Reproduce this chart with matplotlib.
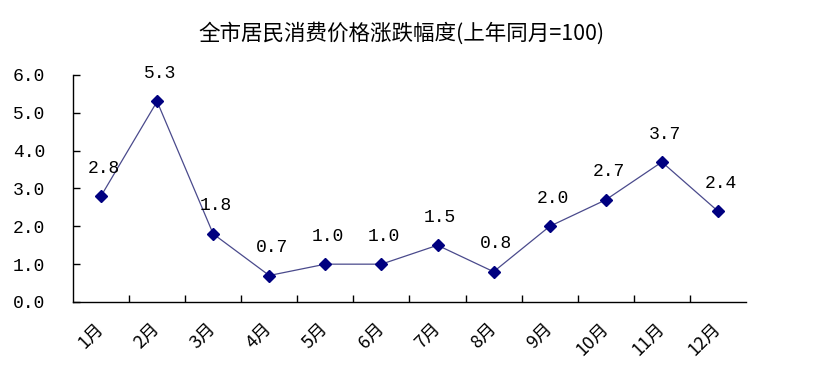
import matplotlib
matplotlib.use("Agg")
import matplotlib.pyplot as plt
from matplotlib.ticker import FixedLocator, NullFormatter

plt.rcParams['font.family'] = ['Noto Sans CJK SC', 'DejaVu Sans']
NUM_FONT = ['Liberation Mono', 'DejaVu Sans Mono']

# --- data ---
months = ["1月", "2月", "3月", "4月", "5月", "6月", "7月", "8月", "9月", "10月", "11月", "12月"]
values = [2.8, 5.3, 1.8, 0.7, 1.0, 1.0, 1.5, 0.8, 2.0, 2.7, 3.7, 2.4]
yticks = [0.0, 1.0, 2.0, 3.0, 4.0, 5.0, 6.0]
title = "全市居民消费价格涨跌幅度(上年同月=100)"

fig = plt.figure(figsize=(8.31, 3.92), dpi=100)
ax = fig.add_axes([0.0878, 0.2296, 0.8099, 0.5791])

x = list(range(len(months)))
ax.plot(x, values, color="#4a4a8c", linewidth=0.9, zorder=2)
ax.plot(x, values, linestyle="none", marker="D", markersize=6,
        color="#000080", zorder=3)

for xi, v in zip(x, values):
    ax.annotate(f"{v:.1f}", (xi, v), xytext=(2, 14), textcoords="offset points",
                ha="center", va="bottom", fontsize=13, color="black",
                family=NUM_FONT)

ax.set_xlim(-0.5, len(months) - 0.5)
ax.set_ylim(0, 6)
ax.set_yticks(yticks)
ax.set_yticklabels([f"{t:.1f}" for t in yticks], fontsize=13, family=NUM_FONT)

# category ticks at boundaries, labels at centers
ax.xaxis.set_major_locator(FixedLocator([i + 0.5 for i in range(len(months) - 1)]))
ax.xaxis.set_major_formatter(NullFormatter())
ax.xaxis.set_minor_locator(FixedLocator(x))
ax.set_xticklabels(months, minor=True, rotation=45, ha="right", va="center",
                   rotation_mode="anchor", fontsize=13)
ax.tick_params(axis="x", which="minor", length=0, pad=17)
ax.tick_params(axis="x", which="major", direction="in", length=5, width=1)
ax.tick_params(axis="y", direction="in", length=5, width=1, pad=20)

for s in ["top", "right"]:
    ax.spines[s].set_visible(False)
for s in ["left", "bottom"]:
    ax.spines[s].set_linewidth(1.0)
    ax.spines[s].set_color("black")

fig.text(0.483, 0.915, title, ha="center", va="center", fontsize=15.5)

fig.savefig("out.png", dpi=100)
